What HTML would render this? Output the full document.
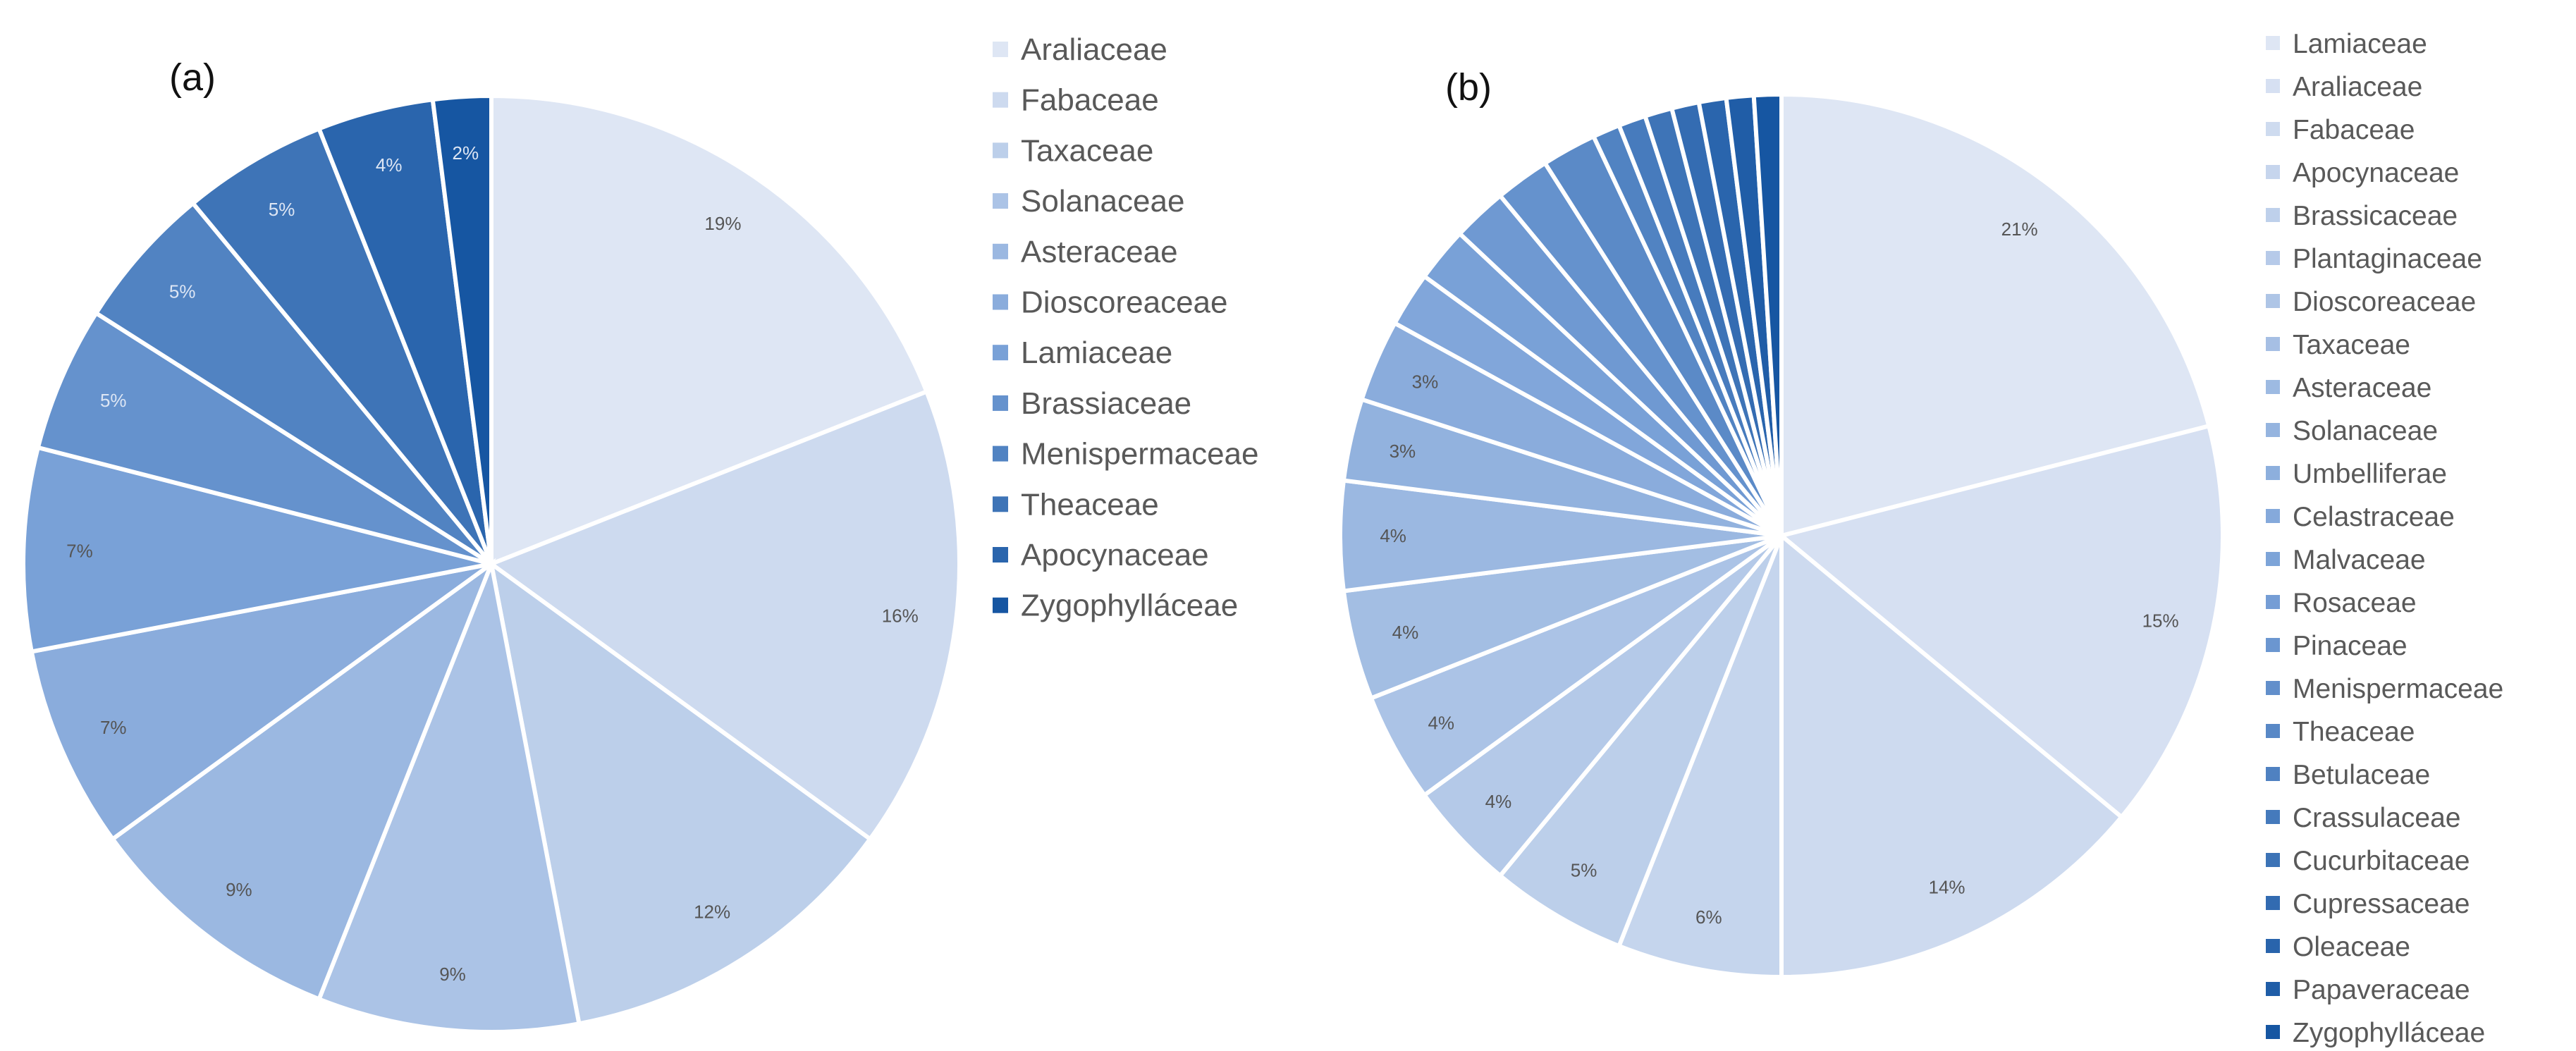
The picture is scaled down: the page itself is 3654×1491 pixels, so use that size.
<!DOCTYPE html>
<html><head><meta charset="utf-8"><style>
html,body{margin:0;padding:0;background:#fff}
svg{display:block;font-family:"Liberation Sans",sans-serif}
</style></head><body>
<svg id="chart" width="3654" height="1491" viewBox="0 0 3654 1491" xmlns="http://www.w3.org/2000/svg">
<text x="240" y="128" font-size="54" fill="#111">(a)</text>
<text x="2050" y="142" font-size="54" fill="#111">(b)</text>
<g id="pieA"></g>
<g id="legA"></g>
<g id="pieB"></g>
<g id="legB"></g>
</svg>
<script>
const categoriesA = ["Araliaceae","Fabaceae","Taxaceae","Solanaceae","Asteraceae","Dioscoreaceae","Lamiaceae","Brassiaceae","Menispermaceae","Theaceae","Apocynaceae","Zygophylláceae"];
const valuesA = [19,16,12,9,9,7,7,5,5,5,4,2];
const categoriesB = ["Lamiaceae","Araliaceae","Fabaceae","Apocynaceae","Brassicaceae","Plantaginaceae","Dioscoreaceae","Taxaceae","Asteraceae","Solanaceae","Umbelliferae","Celastraceae","Malvaceae","Rosaceae","Pinaceae","Menispermaceae","Theaceae","Betulaceae","Crassulaceae","Cucurbitaceae","Cupressaceae","Oleaceae","Papaveraceae","Zygophylláceae"];
const valuesB = [21,15,14,6,5,4,4,4,4,3,3,2,2,2,2,2,1,1,1,1,1,1,1];
const labelsB = ["21%","15%","14%","6%","5%","4%","4%","4%","4%","3%","3%","","","","","","","","","","","",""];
const NS="http://www.w3.org/2000/svg";
function col(t){
  const a=[222,230,244], m=[120,160,215], b=[22,86,162];
  let c;
  if(t<0.55){const u=t/0.55;c=a.map((v,i)=>Math.round(v+(m[i]-v)*u));}
  else{const u=(t-0.55)/0.45;c=m.map((v,i)=>Math.round(v+(b[i]-v)*u));}
  return `rgb(${c[0]},${c[1]},${c[2]})`;
}
function drawPie(g,cx,cy,r,vals,labels,fs){
  const tot=vals.reduce((s,v)=>s+v,0);
  let a0=0;
  vals.forEach((v,i)=>{
    const a1=a0+v/tot*2*Math.PI;
    const p=(a)=>[cx+r*Math.sin(a),cy-r*Math.cos(a)];
    const [x0,y0]=p(a0),[x1,y1]=p(a1);
    const path=document.createElementNS(NS,'path');
    
    
    path.setAttribute('d',`M${cx},${cy}L${x0},${y0}A${r},${r} 0 ${a1-a0>Math.PI?1:0} 1 ${x1},${y1}Z`);
    path.setAttribute('fill',col(i/(vals.length-1)));
    path.setAttribute('stroke','#fff');path.setAttribute('stroke-width','6');
    g.appendChild(path);
    const lab=labels?labels[i]:v+'%';
    if(lab){
      const am=(a0+a1)/2;
      const t=document.createElementNS(NS,'text');
      
      
      t.setAttribute('x',cx+0.88*r*Math.sin(am));t.setAttribute('y',cy-0.88*r*Math.cos(am)+fs*0.35);
      t.setAttribute('text-anchor','middle');t.setAttribute('font-size',fs);
      t.setAttribute('fill',i/(vals.length-1)>0.6?'#dde6f4':'#555');
      t.textContent=lab;g.appendChild(t);
    }
    a0=a1;
  });
}
function drawLegend(g,x,y0,dy,cats,fs,sq){
  cats.forEach((c,i)=>{
    const r=document.createElementNS(NS,'rect');
    
    
    r.setAttribute('x',x);r.setAttribute('y',y0+i*dy-sq-4);r.setAttribute('width',sq);r.setAttribute('height',sq);
    r.setAttribute('fill',col(i/(cats.length-1)));g.appendChild(r);
    const t=document.createElementNS(NS,'text');
    
    
    t.setAttribute('x',x+sq+18);t.setAttribute('y',y0+i*dy);t.setAttribute('font-size',fs);t.setAttribute('fill','#595959');
    t.textContent=c;g.appendChild(t);
  });
}
drawPie(document.getElementById('pieA'),697,800,664,valuesA,null,26);
drawLegend(document.getElementById('legA'),1408,85,71.7,categoriesA,44,22);
drawPie(document.getElementById('pieB'),2527,760,626,valuesB,labelsB,26);
drawLegend(document.getElementById('legB'),3214,75,61,categoriesB,39,20);
</script>
</body></html>
